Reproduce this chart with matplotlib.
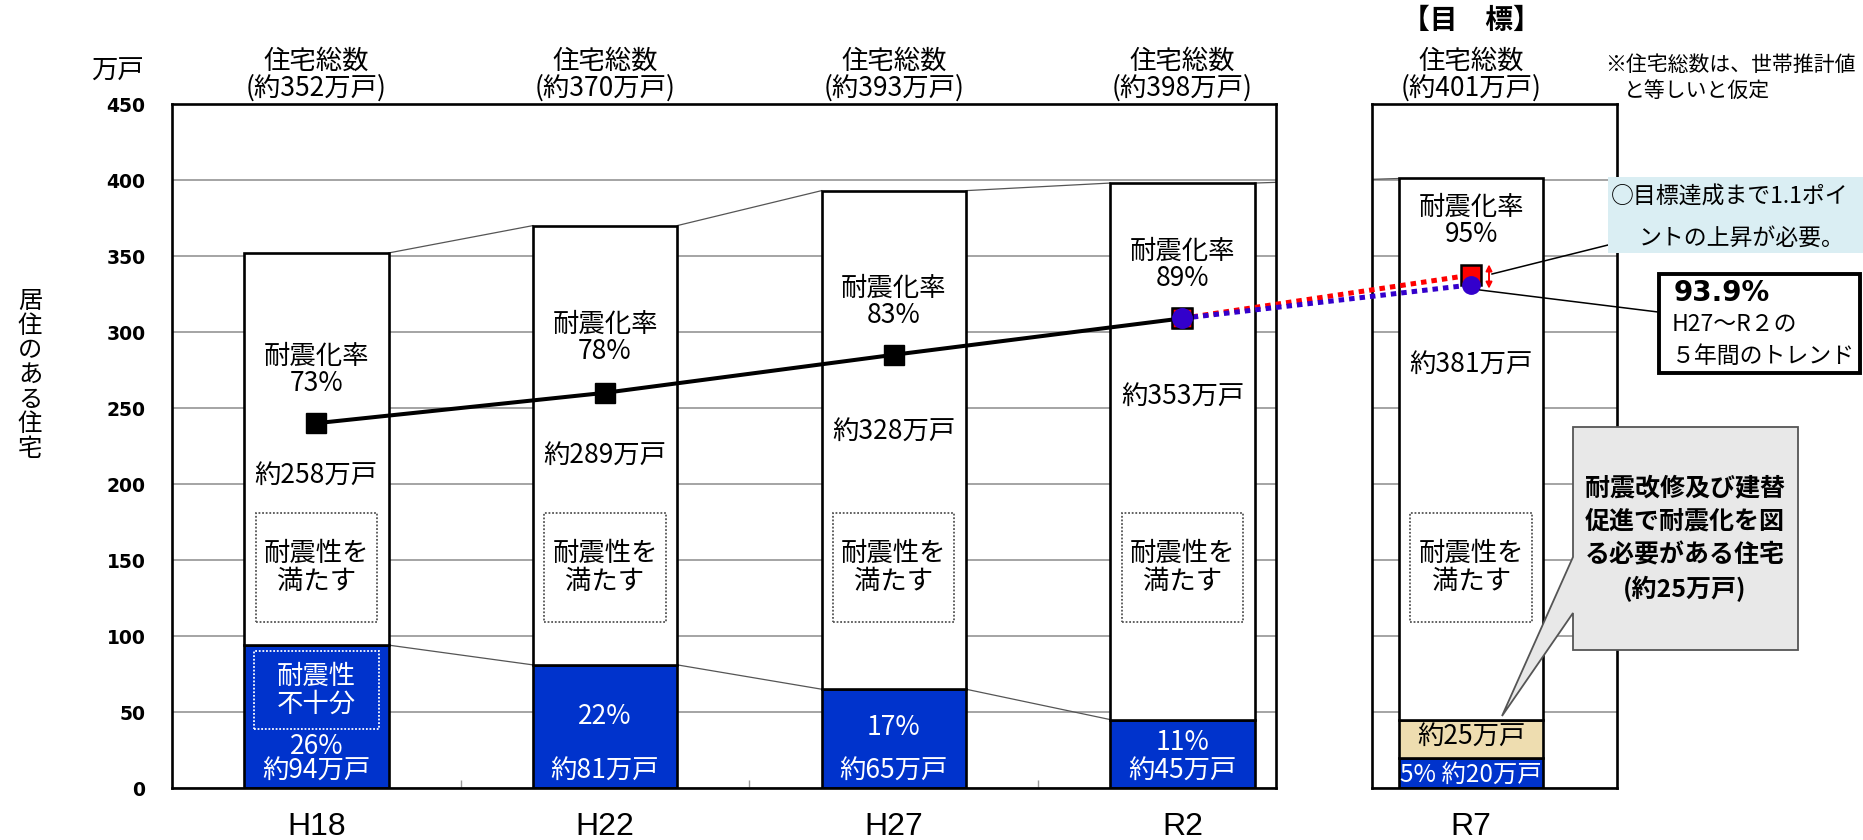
import matplotlib
matplotlib.use('Agg')
import matplotlib.pyplot as plt
from matplotlib.patches import Rectangle, Polygon
from matplotlib.lines import Line2D
import numpy as np

plt.rcParams['font.family'] = ['Noto Sans CJK JP', 'DejaVu Sans']

# ---------------- data ----------------
categories = ['H18', 'H22', 'H27', 'R2']
target_category = 'R7'
totals = [352, 370, 393, 398]
target_total = 401
insufficient = [94, 81, 65, 45]
target_insufficient = 20
target_needed = 25
total_labels = ['(約352万戸)', '(約370万戸)', '(約393万戸)', '(約398万戸)']
target_total_label = '(約401万戸)'
rate_labels = ['73%', '78%', '83%', '89%']
target_rate_label = '95%'
sufficient_labels = ['約258万戸', '約289万戸', '約328万戸', '約353万戸']
target_sufficient_label = '約381万戸'
insufficient_pct = ['26%', '22%', '17%', '11%']
insufficient_labels = ['約94万戸', '約81万戸', '約65万戸', '約45万戸']
target_insufficient_label = '5% 約20万戸'
target_needed_label = '約25万戸'
rate_marker = [240, 260, 285, 309]      # 耐震化率 marker heights on the left axis
target_marker = 337.5                   # 目標 95%
trend_marker = 331                      # trend 93.9%
yticks = [0, 50, 100, 150, 200, 250, 300, 350, 400, 450]

# ---------------- layout ----------------
W, H = 1863, 840
BLUE = '#0033CC'
BEIGE = '#EEDDB0'
fig = plt.figure(figsize=(W / 100, H / 100), dpi=100)


def fpt(x, y):
    return (x / W, 1 - y / H)


ax = fig.add_axes([172 / W, 52 / H, 1104 / W, 684 / H])
axt = fig.add_axes([1372 / W, 52 / H, 245 / W, 684 / H])
axt.set_zorder(ax.get_zorder() + 1)
ax.set_xlim(-0.5, 3.324)
axt.set_xlim(3.657, 4.505)

x_main = np.arange(len(categories))
x_t = len(categories)

for a in (ax, axt):
    a.set_ylim(0, 450)
    a.set_yticks(yticks)
    a.grid(axis='y', color='#8c8c8c', lw=1.1)
    a.set_axisbelow(True)
    for s in a.spines.values():
        s.set_linewidth(1.9)

ax.set_yticklabels([str(v) for v in yticks], fontfamily='DejaVu Sans',
                   fontweight='bold', fontsize=13.5)
axt.set_yticklabels([])
ax.set_xticks(x_main)
ax.set_xticklabels(categories, fontfamily='Liberation Sans', fontsize=23)
axt.set_xticks([x_t])
axt.set_xticklabels([target_category], fontfamily='Liberation Sans', fontsize=23)
for a in (ax, axt):
    a.tick_params(axis='y', which='major', length=0, pad=19)
    a.tick_params(axis='x', which='major', length=0, pad=17)
ax.set_xticks(x_main[:-1] + 0.5, minor=True)
ax.tick_params(axis='x', which='minor', direction='in', length=6, width=1,
               color='#999999')

all_x = list(x_main) + [x_t]
blue_h = insufficient + [target_insufficient]
white_bottom = insufficient + [target_insufficient + target_needed]
all_tot = totals + [target_total]
white_h = [t - b for t, b in zip(all_tot, white_bottom)]

for a in (ax, axt):
    a.bar(all_x, blue_h, width=0.5, color=BLUE, edgecolor='black', lw=1.9, zorder=2)
    a.bar([x_t], [target_needed], bottom=[target_insufficient], width=0.5,
          color=BEIGE, edgecolor='black', lw=1.9, zorder=2)
    a.bar(all_x, white_h, bottom=white_bottom, width=0.5, color='white',
          edgecolor='black', lw=1.9, zorder=2)
    # connector lines between bar tops
    for i in range(len(all_x) - 1):
        a.plot([all_x[i] + 0.25, all_x[i + 1] - 0.25], [all_tot[i], all_tot[i + 1]],
               color='#555555', lw=0.9, zorder=1.5)
    for i in range(len(categories) - 1):
        a.plot([i + 0.25, i + 0.75], [insufficient[i], insufficient[i + 1]],
               color='#555555', lw=0.9, zorder=1.5)
    # dotted boxes 耐震性を満たす
    for x in all_x:
        a.add_patch(Rectangle((x - 0.21, 109), 0.42, 72, fill=False,
                              ls=(0, (1, 1)), lw=1.3, ec='#555555', zorder=3))

ax.add_patch(Rectangle((-0.217, 39), 0.434, 51, fill=False, ls=(0, (1, 1)),
                       lw=1.3, ec='white', zorder=3))

# black trend line of 耐震化率
ax.plot(x_main, rate_marker, color='black', lw=2.9, marker='s', ms=15,
        zorder=5, clip_on=False)

# projections to R7 (drawn in the upper axes so they show over both panels)
axt.plot([x_main[-1], x_t], [rate_marker[-1], target_marker], color='red', lw=3.6,
         ls=(0, (1.1, 1.0)), dash_capstyle='butt', zorder=5, clip_on=False)
axt.plot([x_main[-1], x_t], [rate_marker[-1], trend_marker], color='#3300CC', lw=3.6,
         ls=(0, (1.1, 1.0)), dash_capstyle='butt', zorder=5, clip_on=False)
axt.plot([x_main[-1]], [rate_marker[-1]], marker='s', ms=15, mfc='red', mec='black',
         mew=1.8, zorder=6, clip_on=False)
axt.plot([x_main[-1]], [rate_marker[-1]], marker='o', ms=14, mfc='#3300CC',
         mec='#3300CC', zorder=7, clip_on=False)
axt.plot([x_t], [target_marker], marker='s', ms=15, mfc='red', mec='black',
         mew=1.8, zorder=6, clip_on=False)
axt.plot([x_t], [trend_marker], marker='o', ms=12.5, mfc='#3300CC',
         mec='#3300CC', zorder=7, clip_on=False)
axt.annotate('', xy=(x_t + 0.062, 344.5), xytext=(x_t + 0.062, 328.5),
             arrowprops=dict(arrowstyle='<|-|>', color='red', lw=1.4,
                             mutation_scale=9, shrinkA=0, shrinkB=0),
             annotation_clip=False, zorder=8)

# ---------------- texts ----------------
FS = 19
rate_text_y = [275, 296, 320, 344]
suff_text_y = [205, 218, 234, 257]
pct_text_y = [27, 47, 39.5, 30]
for i, x in enumerate(x_main):
    ax.text(x, 478, '住宅総数', ha='center', va='center', fontsize=FS)
    ax.text(x, 460.5, total_labels[i], ha='center', va='center', fontsize=FS)
    ax.text(x, rate_text_y[i], '耐震化率\n' + rate_labels[i], ha='center',
            va='center', fontsize=FS, linespacing=1.0, zorder=4)
    ax.text(x, suff_text_y[i], sufficient_labels[i], ha='center', va='center',
            fontsize=FS, zorder=4)
    ax.text(x, 145, '耐震性を\n満たす', ha='center', va='center', fontsize=FS,
            linespacing=1.05, zorder=4)
    ax.text(x, pct_text_y[i], insufficient_pct[i], ha='center', va='center',
            fontsize=FS, color='white', zorder=4)
    ax.text(x, 11, insufficient_labels[i], ha='center', va='center',
            fontsize=FS, color='white', zorder=4)
ax.text(0, 64.5, '耐震性\n不十分', ha='center', va='center', fontsize=FS,
        color='white', linespacing=1.05, zorder=4)

axt.text(x_t, 504.5, '【目　標】', ha='center', va='center', fontsize=20,
         fontweight='bold')
axt.text(x_t, 478, '住宅総数', ha='center', va='center', fontsize=FS)
axt.text(x_t, 460.5, target_total_label, ha='center', va='center', fontsize=FS)
axt.text(x_t, 373, '耐震化率\n' + target_rate_label, ha='center', va='center',
         fontsize=FS, linespacing=1.0, zorder=4)
axt.text(x_t, 278, target_sufficient_label, ha='center', va='center', fontsize=FS,
         zorder=4)
axt.text(x_t, 145, '耐震性を\n満たす', ha='center', va='center', fontsize=FS,
         linespacing=1.05, zorder=4)
axt.text(x_t, 33.5, target_needed_label, ha='center', va='center', fontsize=FS,
         zorder=4)
axt.text(x_t, 9, target_insufficient_label, ha='center', va='center',
         fontsize=17.5, color='white', zorder=4)

# axis unit and label
fig.text(*fpt(117, 71), '万戸', ha='center', va='center', fontsize=19)
fig.text(*fpt(30, 375), '\n'.join('居住のある住宅'), ha='center', va='center',
         fontsize=17.5, linespacing=0.93)

# note
fig.text(*fpt(1605, 65), '※住宅総数は、世帯推計値', ha='left', va='center', fontsize=15)
fig.text(*fpt(1624, 91), 'と等しいと仮定', ha='left', va='center', fontsize=15)

# callout: light blue
fig.add_artist(Line2D([1608 / W, 1492 / W], [1 - 245 / H, 1 - 274 / H],
                      color='black', lw=1.1, zorder=9))
x0, y0 = fpt(1608, 253)
fig.add_artist(Rectangle((x0, y0), (1863 - 1608) / W, (253 - 177) / H,
                         transform=fig.transFigure, fc='#DAEEF3', ec='none',
                         zorder=10))
fig.text(*fpt(1730, 197), '○目標達成まで1.1ポイ', ha='center', va='center',
         fontsize=16.5, zorder=11)
fig.text(*fpt(1742, 238), 'ントの上昇が必要。', ha='center', va='center',
         fontsize=16.5, zorder=11)

# callout: trend box
fig.add_artist(Line2D([1658 / W, 1480 / W], [1 - 312 / H, 1 - 290 / H],
                      color='black', lw=1.1, zorder=9))
x0, y0 = fpt(1659, 373)
fig.add_artist(Rectangle((x0, y0), (1860 - 1659) / W, (373 - 274) / H,
                         transform=fig.transFigure, fc='white', ec='black',
                         lw=2.8, zorder=10))
fig.text(*fpt(1674, 293), '93.9%', ha='left', va='center', fontsize=20,
         fontweight='bold', family=['DejaVu Sans'], zorder=11)
fig.text(*fpt(1672, 324), 'H27～R２の', ha='left', va='center', fontsize=16.5,
         zorder=11)
fig.text(*fpt(1672, 356), '５年間のトレンド', ha='left', va='center', fontsize=16.5,
         zorder=11)

# callout: gray speech box
poly_px = [(1573, 427), (1798, 427), (1798, 650), (1573, 650), (1573, 613),
           (1502, 716), (1573, 557)]
fig.add_artist(Polygon([fpt(x, y) for x, y in poly_px], closed=True,
                       transform=fig.transFigure, fc='#E8E8E8', ec='#555555',
                       lw=1.3, zorder=10))
for k, line in enumerate(['耐震改修及び建替', '促進で耐震化を図',
                          'る必要がある住宅', '(約25万戸)']):
    fig.text(*fpt(1685, 488 + 33.5 * k), line, ha='center', va='center',
             fontsize=18, fontweight='bold', zorder=11)

fig.savefig('out.png', dpi=100)
